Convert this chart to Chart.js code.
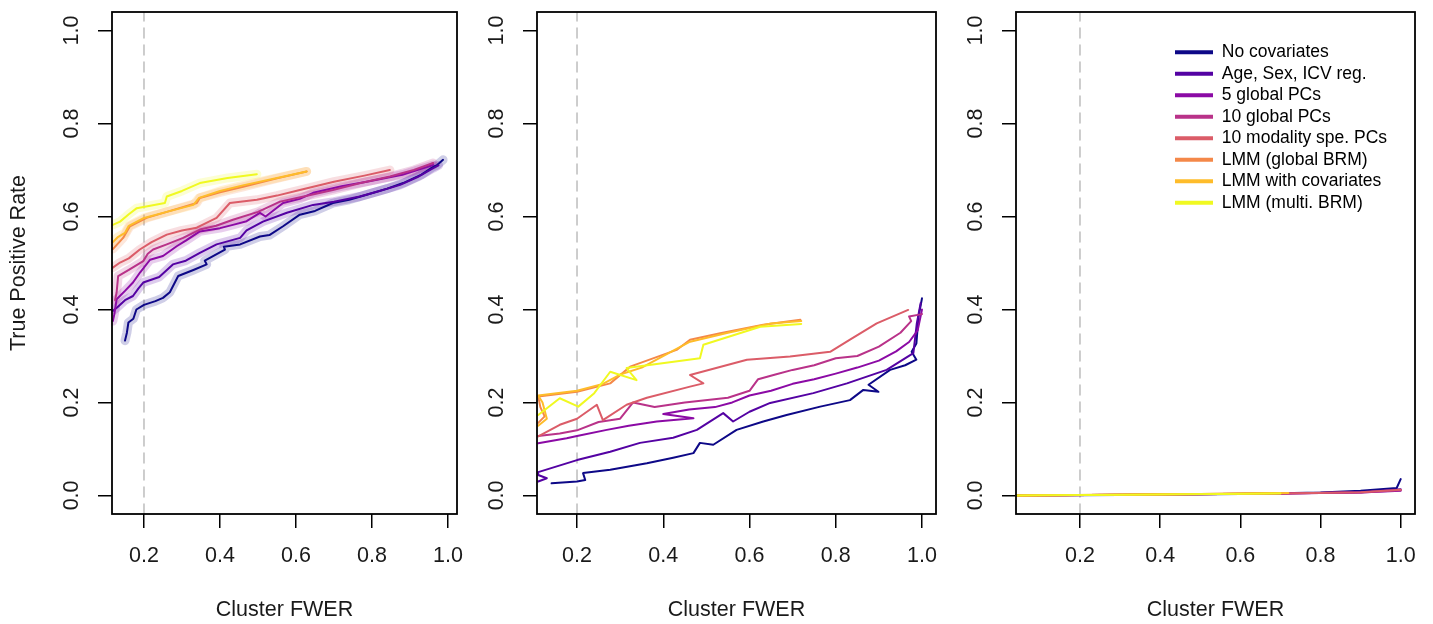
<!DOCTYPE html>
<html>
<head>
<meta charset="utf-8">
<script src="https://cdn.jsdelivr.net/npm/chart.js@4.4.1/dist/chart.umd.min.js"></script>
<style>
  body { margin: 0; background: #fff; }
  #wrap { position: relative; width: 1433px; height: 624px; }
  canvas { position: absolute; top: 0; }
</style>
</head>
<body>
<div id="wrap">
  <canvas id="panel1" width="478" height="624" style="left:0px"></canvas>
  <canvas id="panel2" width="478" height="624" style="left:478px"></canvas>
  <canvas id="panel3" width="477" height="624" style="left:956px"></canvas>
</div>
<script>
const seriesNames = [
  "No covariates",
  "Age, Sex, ICV reg.",
  "5 global PCs",
  "10 global PCs",
  "10 modality spe. PCs",
  "LMM (global BRM)",
  "LMM with covariates",
  "LMM (multi. BRM)"
];
const seriesColors = ["#0D0887", "#5402A3", "#8B0AA5", "#B93289", "#DB5C68", "#F48849", "#FEBC2A", "#F0F921"];

const xTicks = [0.2, 0.4, 0.6, 0.8, 1.0];
const yTicks = [0.0, 0.2, 0.4, 0.6, 0.8, 1.0];
const fwerCutoff = 0.2;

// panel 1 : [cluster FWER, true positive rate]
const p1NoCov = [[0.15,0.333],[0.155,0.35],[0.159,0.372],[0.172,0.38],[0.18,0.4],[0.2,0.41],[0.23,0.418],[0.25,0.425],[0.268,0.437],[0.29,0.472],[0.33,0.485],[0.365,0.497],[0.36,0.505],[0.413,0.529],[0.41,0.535],[0.453,0.54],[0.505,0.557],[0.53,0.56],[0.566,0.579],[0.61,0.604],[0.65,0.612],[0.697,0.629],[0.74,0.636],[0.786,0.647],[0.84,0.66],[0.882,0.672],[0.93,0.69],[0.961,0.707],[0.97,0.71],[0.987,0.722]];
const p1AgeSex = [[0.118,0.397],[0.13,0.405],[0.15,0.42],[0.171,0.429],[0.185,0.445],[0.198,0.458],[0.24,0.47],[0.276,0.497],[0.31,0.505],[0.347,0.522],[0.391,0.54],[0.453,0.554],[0.47,0.57],[0.513,0.589],[0.576,0.608],[0.645,0.625],[0.7,0.632],[0.768,0.643],[0.82,0.655],[0.874,0.668],[0.92,0.685],[0.961,0.704],[0.975,0.71]];
const p1Pc5 = [[0.118,0.375],[0.122,0.39],[0.128,0.422],[0.15,0.44],[0.171,0.458],[0.19,0.48],[0.216,0.507],[0.25,0.515],[0.286,0.536],[0.31,0.548],[0.347,0.568],[0.4,0.575],[0.434,0.582],[0.47,0.59],[0.505,0.608],[0.52,0.6],[0.566,0.629],[0.61,0.638],[0.645,0.651],[0.72,0.665],[0.786,0.675],[0.88,0.69],[0.961,0.711]];
const p1Pc10 = [[0.124,0.42],[0.128,0.437],[0.132,0.472],[0.16,0.485],[0.198,0.504],[0.21,0.52],[0.224,0.529],[0.26,0.54],[0.303,0.554],[0.347,0.572],[0.39,0.58],[0.434,0.593],[0.5,0.61],[0.558,0.632],[0.62,0.643],[0.697,0.657],[0.77,0.672],[0.847,0.686],[0.91,0.7],[0.961,0.715]];
const p1Mod10 = [[0.118,0.49],[0.137,0.501],[0.16,0.51],[0.189,0.529],[0.22,0.545],[0.26,0.561],[0.3,0.57],[0.339,0.576],[0.391,0.597],[0.426,0.629],[0.497,0.636],[0.55,0.645],[0.61,0.657],[0.7,0.675],[0.78,0.688],[0.847,0.7]];
const p1LmmGlobal = [[0.118,0.53],[0.135,0.545],[0.145,0.554],[0.163,0.579],[0.207,0.597],[0.26,0.61],[0.339,0.629],[0.347,0.64],[0.4,0.652],[0.461,0.664],[0.55,0.682],[0.628,0.697]];
const p1LmmCov = [[0.118,0.545],[0.13,0.555],[0.15,0.565],[0.16,0.58],[0.2,0.597],[0.26,0.61],[0.33,0.625],[0.345,0.64],[0.4,0.655],[0.46,0.667],[0.55,0.683],[0.628,0.697]];
const p1LmmMulti = [[0.118,0.582],[0.137,0.589],[0.16,0.605],[0.181,0.618],[0.255,0.629],[0.26,0.643],[0.3,0.655],[0.347,0.672],[0.42,0.683],[0.497,0.691]];

// panel 2
const p2NoCov = [[0.141,0.026],[0.2,0.03],[0.219,0.033],[0.214,0.048],[0.277,0.055],[0.362,0.069],[0.423,0.081],[0.47,0.091],[0.485,0.113],[0.516,0.109],[0.57,0.141],[0.632,0.159],[0.686,0.173],[0.764,0.191],[0.833,0.205],[0.864,0.227],[0.899,0.223],[0.876,0.238],[0.926,0.27],[0.961,0.28],[0.987,0.292],[0.976,0.309],[0.987,0.327],[0.992,0.385],[1.0,0.424]];
const p2AgeSex = [[0.11,0.03],[0.13,0.037],[0.11,0.044],[0.11,0.05],[0.2,0.076],[0.277,0.094],[0.346,0.113],[0.423,0.124],[0.478,0.141],[0.539,0.177],[0.562,0.159],[0.6,0.18],[0.648,0.199],[0.748,0.22],[0.826,0.241],[0.918,0.27],[0.98,0.306],[0.988,0.37],[0.997,0.414]];
const p2Pc5 = [[0.11,0.112],[0.176,0.123],[0.2,0.128],[0.269,0.141],[0.32,0.15],[0.385,0.159],[0.47,0.166],[0.4,0.175],[0.46,0.185],[0.52,0.19],[0.56,0.2],[0.6,0.215],[0.65,0.225],[0.7,0.24],[0.75,0.25],[0.8,0.262],[0.85,0.275],[0.9,0.29],[0.94,0.31],[0.97,0.33],[0.99,0.355],[1.0,0.4]];
const p2Pc10 = [[0.11,0.128],[0.16,0.133],[0.2,0.14],[0.25,0.158],[0.3,0.165],[0.33,0.2],[0.38,0.19],[0.45,0.2],[0.55,0.21],[0.6,0.225],[0.62,0.25],[0.66,0.26],[0.7,0.27],[0.75,0.28],[0.8,0.295],[0.85,0.3],[0.9,0.32],[0.95,0.35],[0.975,0.375],[0.97,0.385],[1.0,0.39]];
const p2Mod10 = [[0.11,0.127],[0.16,0.152],[0.2,0.165],[0.246,0.195],[0.26,0.162],[0.315,0.195],[0.362,0.21],[0.462,0.234],[0.493,0.241],[0.462,0.259],[0.594,0.292],[0.694,0.299],[0.787,0.309],[0.833,0.335],[0.895,0.37],[0.968,0.399]];
const p2LmmGlobal = [[0.11,0.156],[0.125,0.17],[0.115,0.19],[0.11,0.213],[0.2,0.223],[0.277,0.241],[0.323,0.277],[0.431,0.313],[0.462,0.335],[0.532,0.349],[0.632,0.367],[0.718,0.378]];
const p2LmmCov = [[0.11,0.15],[0.13,0.165],[0.12,0.2],[0.11,0.215],[0.2,0.225],[0.26,0.24],[0.3,0.26],[0.35,0.275],[0.42,0.31],[0.46,0.33],[0.55,0.35],[0.65,0.37],[0.72,0.375]];
const p2LmmMulti = [[0.11,0.173],[0.16,0.209],[0.203,0.191],[0.24,0.22],[0.277,0.266],[0.338,0.248],[0.315,0.274],[0.485,0.295],[0.493,0.324],[0.625,0.363],[0.72,0.369]];

// panel 3
const p3NoCov = [[0.04,0.0],[0.3,0.001],[0.6,0.003],[0.8,0.006],[0.9,0.01],[0.99,0.016],[1.0,0.035]];
const p3AgeSex = [[0.04,0.0],[0.4,0.002],[0.7,0.004],[0.9,0.007],[1.0,0.013]];
const p3Pc5 = [[0.04,0.0],[0.4,0.002],[0.7,0.004],[0.9,0.006],[1.0,0.01]];
const p3Pc10 = [[0.04,0.0],[0.4,0.002],[0.7,0.004],[0.9,0.006],[1.0,0.011]];
const p3Mod10 = [[0.04,0.0],[0.4,0.002],[0.7,0.004],[0.9,0.007],[1.0,0.012]];
const p3LmmGlobal = [[0.04,0.0],[0.5,0.003],[0.7,0.005]];
const p3LmmCov = [[0.04,0.0],[0.5,0.003],[0.72,0.005]];
const p3LmmMulti = [[0.04,0.0],[0.4,0.002],[0.7,0.004]];

const panel1 = [p1NoCov, p1AgeSex, p1Pc5, p1Pc10, p1Mod10, p1LmmGlobal, p1LmmCov, p1LmmMulti];
const panel2 = [p2NoCov, p2AgeSex, p2Pc5, p2Pc10, p2Mod10, p2LmmGlobal, p2LmmCov, p2LmmMulti];
const panel3 = [p3NoCov, p3AgeSex, p3Pc5, p3Pc10, p3Mod10, p3LmmGlobal, p3LmmCov, p3LmmMulti];

Chart.defaults.font.family = "'Liberation Sans', Arial, Helvetica, sans-serif";
Chart.defaults.color = "#1a1a1a";

function withAlpha(hex, a) {
    const n = parseInt(hex.slice(1), 16);
    return "rgba(" + (n >> 16) + "," + ((n >> 8) & 255) + "," + (n & 255) + "," + a + ")";
}

const toPoints = arr => arr.map(p => ({x: p[0], y: p[1]}));

// R style box round the plot region
const boxPlugin = {
    id: "box",
    afterDatasetsDraw(chart) {
        const {ctx, chartArea: a} = chart;
        ctx.save();
        ctx.strokeStyle = "#000";
        ctx.lineWidth = 1.8;
        ctx.strokeRect(a.left, a.top, a.right - a.left, a.bottom - a.top);
        ctx.restore();
    }
};

// move the chartArea legend to the top right corner
const legendPlace = {
    id: "legendPlace",
    afterLayout(chart) {
        const lg = chart.legend;
        if (!lg || !chart.options.plugins.legend.display) return;
        lg.left = 215;
        lg.top = 39.5;
        lg.right = chart.width;
        lg.bottom = chart.chartArea.bottom;
    }
};

function renderPanel(canvasId, series, cfg) {
    const datasets = [];
    series.forEach((pts, i) => {
        datasets.push({
            label: seriesNames[i],
            data: toPoints(pts),
            borderColor: seriesColors[i],
            backgroundColor: seriesColors[i],
            borderWidth: 2,
            clip: 1,
            order: 20 - i
        });
        if (cfg.bands) {
            datasets.push({
                label: "",
                data: toPoints(pts),
                borderColor: withAlpha(seriesColors[i], 0.2),
                borderWidth: 9,
                clip: 1,
                order: 60 - i
            });
        }
    });
    datasets.push({
        label: "",
        data: [{x: fwerCutoff, y: -0.04}, {x: fwerCutoff, y: 1.04}],
        borderColor: "#bdbdbd",
        borderWidth: 1.5,
        borderDash: [10, 7],
        clip: 0,
        order: 100
    });

    const tickGrid = {drawOnChartArea: false, drawTicks: true, tickLength: 14, color: "#000", lineWidth: 1.5};

    new Chart(document.getElementById(canvasId), {
        type: "line",
        data: {datasets: datasets},
        options: {
            responsive: false,
            animation: false,
            layout: {padding: {left: 0, top: 12, right: cfg.padRight, bottom: 0}},
            elements: {
                point: {radius: 0},
                line: {tension: 0, fill: false, borderJoinStyle: "round", borderCapStyle: "round"}
            },
            plugins: {
                tooltip: {enabled: false},
                legend: cfg.legend ? {
                    display: true,
                    position: "chartArea",
                    align: "start",
                    labels: {
                        boxWidth: 38,
                        boxHeight: 4,
                        padding: 4,
                        font: {size: 17.5},
                        color: "#1a1a1a",
                        generateLabels: () => seriesNames.map((t, i) => ({
                            text: t, fillStyle: seriesColors[i], strokeStyle: seriesColors[i],
                            lineWidth: 0, hidden: false, datasetIndex: i
                        }))
                    }
                } : {display: false}
            },
            scales: {
                x: {
                    type: "linear",
                    min: cfg.xMin,
                    max: cfg.xMax,
                    afterBuildTicks: s => { s.ticks = xTicks.map(v => ({value: v})); },
                    afterFit: s => { s.height = 110; s.paddingLeft = 0; s.paddingRight = 0; },
                    grid: tickGrid,
                    border: {display: false},
                    ticks: {font: {size: 21.5}, padding: 15.5, autoSkip: false, maxRotation: 0,
                            callback: v => v.toFixed(1)},
                    title: {display: true, text: "Cluster FWER", font: {size: 21.5}, padding: {top: 0, bottom: 1}}
                },
                y: {
                    type: "linear",
                    min: -0.04,
                    max: 1.04,
                    afterBuildTicks: s => { s.ticks = yTicks.map(v => ({value: v})); },
                    afterFit: s => { s.width = cfg.yWidth; s.paddingTop = 0; s.paddingBottom = 0; },
                    grid: tickGrid,
                    border: {display: false},
                    ticks: {font: {size: 21.5}, padding: 11, minRotation: 90, maxRotation: 90,
                            crossAlign: "center", autoSkip: false, callback: v => v.toFixed(1)},
                    title: {display: cfg.yTitle, text: "True Positive Rate", font: {size: 21.5}, padding: {top: 6, bottom: 0}}
                }
            }
        },
        plugins: [boxPlugin, legendPlace]
    });
}

renderPanel("panel1", panel1, {xMin: 0.1158, xMax: 1.0237, yWidth: 112, padRight: 21, yTitle: true, bands: true, legend: false});
renderPanel("panel2", panel2, {xMin: 0.1072, xMax: 1.0325, yWidth: 59, padRight: 20, yTitle: false, bands: false, legend: false});
renderPanel("panel3", panel3, {xMin: 0.0404, xMax: 1.0357, yWidth: 60, padRight: 18, yTitle: false, bands: false, legend: true});
</script>
</body>
</html>
